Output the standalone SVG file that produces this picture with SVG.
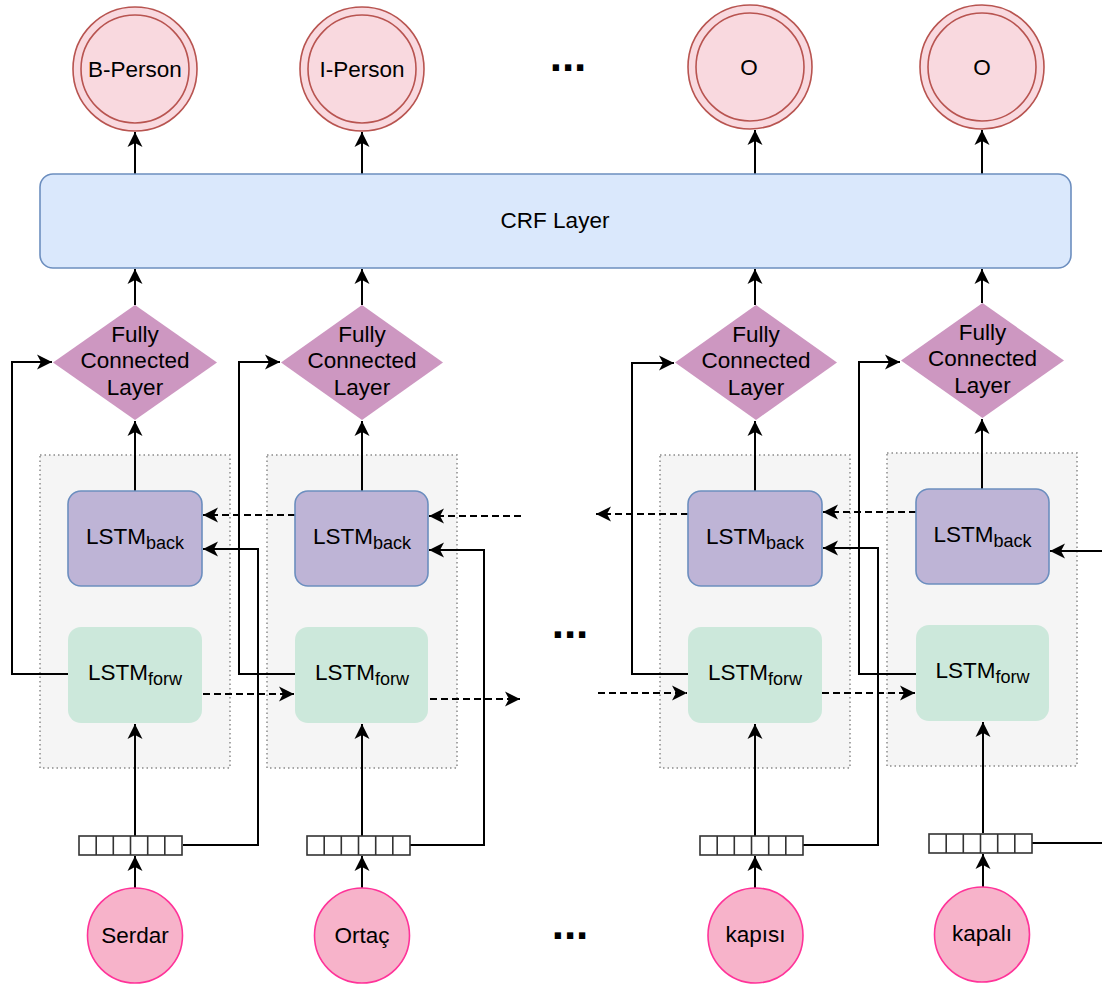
<svg xmlns="http://www.w3.org/2000/svg" width="1102" height="985" viewBox="0 0 1102 985">
  <style>
    text { font-family: "Liberation Sans", Arial, Helvetica, sans-serif; fill: #000; }
    .lbl { font-size: 22.5px; text-anchor: middle; }
    .sub { font-size: 18px; }
    .dots { font-size: 44px; font-weight: bold; text-anchor: middle; }
    .cell { fill: #f5f5f5; stroke: #8a8a8a; stroke-width: 1.5; stroke-dasharray: 1.5 3; }
    .tag-o { fill: #f9d9df; stroke: #b85450; stroke-width: 1.6; }
    .crf { fill: #dae8fc; stroke: #6c8ebf; stroke-width: 1.6; }
    .fc { fill: #cd97c1; }
    .back { fill: #beb4d6; stroke: #6c8ebf; stroke-width: 1.6; }
    .forw { fill: #cce8db; }
    .vec { fill: #fff; stroke: #333; stroke-width: 1.6; }
    .word { fill: #f7b3ca; stroke: #ff3399; stroke-width: 1.6; }
    .wire { fill: none; stroke: #000; stroke-width: 2; }
    .dash { fill: none; stroke: #000; stroke-width: 2; stroke-dasharray: 7 4; }
  </style>
  <defs>
    <marker id="arrow" viewBox="-17 -9 18 18" markerWidth="18" markerHeight="18" refX="0" refY="0" orient="auto" markerUnits="userSpaceOnUse">
      <path d="M0,0 L-15,-7.5 L-11,0 L-15,7.5 Z" fill="#000"/>
    </marker>
    <!-- six-cell embedding vector -->
    <g id="vector">
      <rect class="vec" x="0" y="0" width="103" height="19"/>
      <path d="M17.2,0 V19 M34.3,0 V19 M51.5,0 V19 M68.7,0 V19 M85.8,0 V19" stroke="#333" stroke-width="1.6"/>
    </g>
  </defs>

  <!-- BiLSTM cell containers -->
  <g id="cell-1"><rect class="cell" x="40" y="455" width="190" height="313"/></g>
  <g id="cell-2"><rect class="cell" x="267" y="455" width="190" height="313"/></g>
  <g id="cell-3"><rect class="cell" x="660" y="455" width="190" height="313"/></g>
  <g id="cell-4"><rect class="cell" x="887" y="453" width="190" height="313"/></g>

  <!-- connectors -->
  <g id="connectors">
    <!-- column 1 -->
    <path class="wire" d="M135,888 V856" marker-end="url(#arrow)"/>
    <path class="wire" d="M135,836 V724" marker-end="url(#arrow)"/>
    <path class="wire" d="M135,491 V421" marker-end="url(#arrow)"/>
    <path class="wire" d="M135,305 V269" marker-end="url(#arrow)"/>
    <path class="wire" d="M135,174 V132" marker-end="url(#arrow)"/>
    <path class="wire" d="M68,674 H12 V362 H52" marker-end="url(#arrow)"/>
    <path class="wire" d="M183,845 H258 V549 H203" marker-end="url(#arrow)"/>
    <!-- column 2 -->
    <path class="wire" d="M362,888 V856" marker-end="url(#arrow)"/>
    <path class="wire" d="M362,836 V724" marker-end="url(#arrow)"/>
    <path class="wire" d="M362,491 V421" marker-end="url(#arrow)"/>
    <path class="wire" d="M362,305 V269" marker-end="url(#arrow)"/>
    <path class="wire" d="M362,174 V132" marker-end="url(#arrow)"/>
    <path class="wire" d="M295,674 H239 V362 H280" marker-end="url(#arrow)"/>
    <path class="wire" d="M409,845 H484 V550 H429" marker-end="url(#arrow)"/>
    <!-- column 3 -->
    <path class="wire" d="M755,888 V856" marker-end="url(#arrow)"/>
    <path class="wire" d="M755,836 V724" marker-end="url(#arrow)"/>
    <path class="wire" d="M755,491 V421" marker-end="url(#arrow)"/>
    <path class="wire" d="M755,305 V269" marker-end="url(#arrow)"/>
    <path class="wire" d="M755,174 V130" marker-end="url(#arrow)"/>
    <path class="wire" d="M688,674 H632 V363 H674" marker-end="url(#arrow)"/>
    <path class="wire" d="M803,845 H878 V548 H823" marker-end="url(#arrow)"/>
    <!-- column 4 -->
    <path class="wire" d="M983,887 V854" marker-end="url(#arrow)"/>
    <path class="wire" d="M983,833 V722" marker-end="url(#arrow)"/>
    <path class="wire" d="M982,489 V419" marker-end="url(#arrow)"/>
    <path class="wire" d="M982,303 V269" marker-end="url(#arrow)"/>
    <path class="wire" d="M982,174 V130" marker-end="url(#arrow)"/>
    <path class="wire" d="M916,674 H859 V362 H900" marker-end="url(#arrow)"/>
    <path class="wire" d="M1032,843 H1102"/>
    <path class="wire" d="M1102,551 H1050" marker-end="url(#arrow)"/>
    <!-- backward recurrence -->
    <path class="dash" d="M295,515 H203" marker-end="url(#arrow)"/>
    <path class="dash" d="M521,516 H429" marker-end="url(#arrow)"/>
    <path class="dash" d="M688,514 H596" marker-end="url(#arrow)"/>
    <path class="dash" d="M916,512 H823" marker-end="url(#arrow)"/>
    <!-- forward recurrence -->
    <path class="dash" d="M203,694 H294" marker-end="url(#arrow)"/>
    <path class="dash" d="M430,699 H520" marker-end="url(#arrow)"/>
    <path class="dash" d="M598,693 H687" marker-end="url(#arrow)"/>
    <path class="dash" d="M822,693 H915" marker-end="url(#arrow)"/>
  </g>

  <!-- output tags -->
  <g id="tag-1">
    <circle class="tag-o" cx="135" cy="69" r="62"/>
    <circle class="tag-o" cx="135" cy="69" r="54"/>
    <text class="lbl" x="135" y="77">B-Person</text>
  </g>
  <g id="tag-2">
    <circle class="tag-o" cx="362" cy="69" r="62"/>
    <circle class="tag-o" cx="362" cy="69" r="54"/>
    <text class="lbl" x="362" y="77">I-Person</text>
  </g>
  <g id="tag-3">
    <circle class="tag-o" cx="750" cy="67" r="62"/>
    <circle class="tag-o" cx="750" cy="67" r="54"/>
    <text class="lbl" x="749" y="75">O</text>
  </g>
  <g id="tag-4">
    <circle class="tag-o" cx="982" cy="67" r="62"/>
    <circle class="tag-o" cx="982" cy="67" r="54"/>
    <text class="lbl" x="982" y="75">O</text>
  </g>

  <!-- CRF layer -->
  <g id="crf">
    <rect class="crf" x="40" y="174" width="1031" height="94" rx="13" ry="13"/>
    <text class="lbl" x="555" y="228">CRF Layer</text>
  </g>

  <!-- fully connected layers -->
  <g id="fc-1">
    <polygon class="fc" points="135,305 217,362.5 135,420 53,362.5"/>
    <text class="lbl" x="135" y="342">Fully</text>
    <text class="lbl" x="135" y="368">Connected</text>
    <text class="lbl" x="135" y="395">Layer</text>
  </g>
  <g id="fc-2">
    <polygon class="fc" points="362,305 443,362.5 362,420 281,362.5"/>
    <text class="lbl" x="362" y="342">Fully</text>
    <text class="lbl" x="362" y="368">Connected</text>
    <text class="lbl" x="362" y="395">Layer</text>
  </g>
  <g id="fc-3">
    <polygon class="fc" points="756,305 837,362.5 756,420 675,362.5"/>
    <text class="lbl" x="756" y="342">Fully</text>
    <text class="lbl" x="756" y="368">Connected</text>
    <text class="lbl" x="756" y="395">Layer</text>
  </g>
  <g id="fc-4">
    <polygon class="fc" points="982.5,303 1064,360.5 982.5,418 901,360.5"/>
    <text class="lbl" x="982.5" y="340">Fully</text>
    <text class="lbl" x="982.5" y="366">Connected</text>
    <text class="lbl" x="982.5" y="393">Layer</text>
  </g>

  <!-- backward LSTMs -->
  <g id="back-1">
    <rect class="back" x="68" y="491" width="134" height="95" rx="13" ry="13"/>
    <text class="lbl" x="135" y="544">LSTM<tspan class="sub" dy="5">back</tspan></text>
  </g>
  <g id="back-2">
    <rect class="back" x="295" y="491" width="133" height="95" rx="13" ry="13"/>
    <text class="lbl" x="362" y="544">LSTM<tspan class="sub" dy="5">back</tspan></text>
  </g>
  <g id="back-3">
    <rect class="back" x="688" y="491" width="134" height="95" rx="13" ry="13"/>
    <text class="lbl" x="755" y="544">LSTM<tspan class="sub" dy="5">back</tspan></text>
  </g>
  <g id="back-4">
    <rect class="back" x="916" y="489" width="133" height="95" rx="13" ry="13"/>
    <text class="lbl" x="982.5" y="542">LSTM<tspan class="sub" dy="5">back</tspan></text>
  </g>

  <!-- forward LSTMs -->
  <g id="forw-1">
    <rect class="forw" x="68" y="627" width="134" height="96" rx="13" ry="13"/>
    <text class="lbl" x="135" y="680">LSTM<tspan class="sub" dy="5">forw</tspan></text>
  </g>
  <g id="forw-2">
    <rect class="forw" x="295" y="627" width="133" height="96" rx="13" ry="13"/>
    <text class="lbl" x="362" y="680">LSTM<tspan class="sub" dy="5">forw</tspan></text>
  </g>
  <g id="forw-3">
    <rect class="forw" x="688" y="627" width="134" height="96" rx="13" ry="13"/>
    <text class="lbl" x="755" y="680">LSTM<tspan class="sub" dy="5">forw</tspan></text>
  </g>
  <g id="forw-4">
    <rect class="forw" x="916" y="625" width="133" height="96" rx="13" ry="13"/>
    <text class="lbl" x="982.5" y="678">LSTM<tspan class="sub" dy="5">forw</tspan></text>
  </g>

  <!-- embedding vectors -->
  <g id="emb-1"><use href="#vector" x="79" y="836"/></g>
  <g id="emb-2"><use href="#vector" x="307" y="836"/></g>
  <g id="emb-3"><use href="#vector" x="700" y="836"/></g>
  <g id="emb-4"><use href="#vector" x="929" y="834"/></g>

  <!-- input words -->
  <g id="word-1">
    <circle class="word" cx="135" cy="935.5" r="47.5"/>
    <text class="lbl" x="135" y="943">Serdar</text>
  </g>
  <g id="word-2">
    <circle class="word" cx="362" cy="935.5" r="47.5"/>
    <text class="lbl" x="362" y="943">Ortaç</text>
  </g>
  <g id="word-3">
    <circle class="word" cx="755.5" cy="935.5" r="47.5"/>
    <text class="lbl" x="755.5" y="942">kapısı</text>
  </g>
  <g id="word-4">
    <circle class="word" cx="982" cy="934.5" r="47.5"/>
    <text class="lbl" x="982" y="941">kapalı</text>
  </g>

  <!-- ellipses for omitted positions -->
  <text class="dots" x="568" y="71">...</text>
  <text class="dots" x="570" y="638">...</text>
  <text class="dots" x="570" y="939">...</text>
</svg>
